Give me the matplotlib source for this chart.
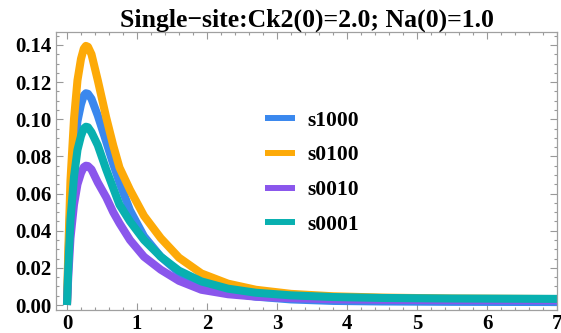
import matplotlib

matplotlib.use("agg")

import matplotlib.pyplot as plt
from matplotlib.ticker import MultipleLocator

# time points and concentrations of each species
t = [0, 0.02, 0.05, 0.1, 0.15, 0.2, 0.24, 0.27, 0.3, 0.35, 0.44, 0.56, 0.66,
     0.75, 0.9, 1.1, 1.34, 1.6, 1.92, 2.3, 2.7, 3.2, 3.8, 4.5, 5.5, 7.0]
s1000 = [0, 0.025, 0.055, 0.082, 0.099, 0.108, 0.1128, 0.114, 0.1137, 0.111,
         0.102, 0.088, 0.076, 0.066, 0.051, 0.037, 0.026, 0.0175, 0.011,
         0.0068, 0.0045, 0.0030, 0.0022, 0.0019, 0.0017, 0.0016]
s0100 = [0, 0.031, 0.067, 0.100, 0.121, 0.1325, 0.138, 0.1395, 0.139, 0.135,
         0.121, 0.101, 0.086, 0.074, 0.062, 0.048, 0.036, 0.0255, 0.017,
         0.0115, 0.0082, 0.0060, 0.0047, 0.0040, 0.0035, 0.0032]
s0010 = [0, 0.0165, 0.036, 0.054, 0.065, 0.071, 0.0742, 0.075, 0.0748, 0.073,
         0.066, 0.058, 0.050, 0.044, 0.035, 0.026, 0.019, 0.013, 0.0082,
         0.0058, 0.0045, 0.0037, 0.0031, 0.0028, 0.0026, 0.0025]
s0001 = [0, 0.021, 0.046, 0.069, 0.0835, 0.091, 0.095, 0.096, 0.0957, 0.093,
         0.086, 0.073, 0.063, 0.054, 0.045, 0.035, 0.026, 0.0185, 0.0127,
         0.0088, 0.0066, 0.0052, 0.0043, 0.0038, 0.0035, 0.0033]

series = [("s1000", s1000, "#3a88ee"),
          ("s0100", s0100, "#fdaa08"),
          ("s0010", s0010, "#8a56ec"),
          ("s0001", s0001, "#08b0b0")]

plt.rcParams["font.family"] = "Liberation Serif"
plt.rcParams["font.weight"] = "bold"

fig = plt.figure(figsize=(5.61, 3.33), dpi=100)
ax = fig.add_axes((0.0998, 0.069, 0.8931, 0.835))

for name, ys, color in series:
    ax.plot(t, ys, color=color, lw=5.8, label=name, solid_capstyle="butt",
            solid_joinstyle="round")

ax.set_xlim(-0.157, 7.0)
ax.set_ylim(-0.0027, 0.147)
ax.xaxis.set_major_locator(MultipleLocator(1))
ax.xaxis.set_minor_locator(MultipleLocator(0.2))
ax.yaxis.set_major_locator(MultipleLocator(0.02))
ax.yaxis.set_minor_locator(MultipleLocator(0.005))
ax.yaxis.set_major_formatter(lambda v, pos: "%.2f" % v)

ax.tick_params(which="both", direction="in", top=True, right=True,
               color="#999999", width=0.8)
ax.tick_params(which="major", length=5, labelsize=15, pad=3)
ax.tick_params(which="minor", length=2.5)
for spine in ax.spines.values():
    spine.set_color("#a0a0a0")
    spine.set_linewidth(0.9)

ax.set_title("Single\u2212site:Ck2(0)=2.0; Na(0)=1.0", fontsize=18.5,
             fontweight="bold", pad=3)

leg = ax.legend(loc="upper left", bbox_to_anchor=(0.417, 0.717), frameon=False,
                fontsize=15.5, handlelength=1.4, handletextpad=0.56,
                labelspacing=0.68, borderpad=0, borderaxespad=0)
for line in leg.get_lines():
    line.set_linewidth(4.3)

fig.savefig("out.png", dpi=100)
